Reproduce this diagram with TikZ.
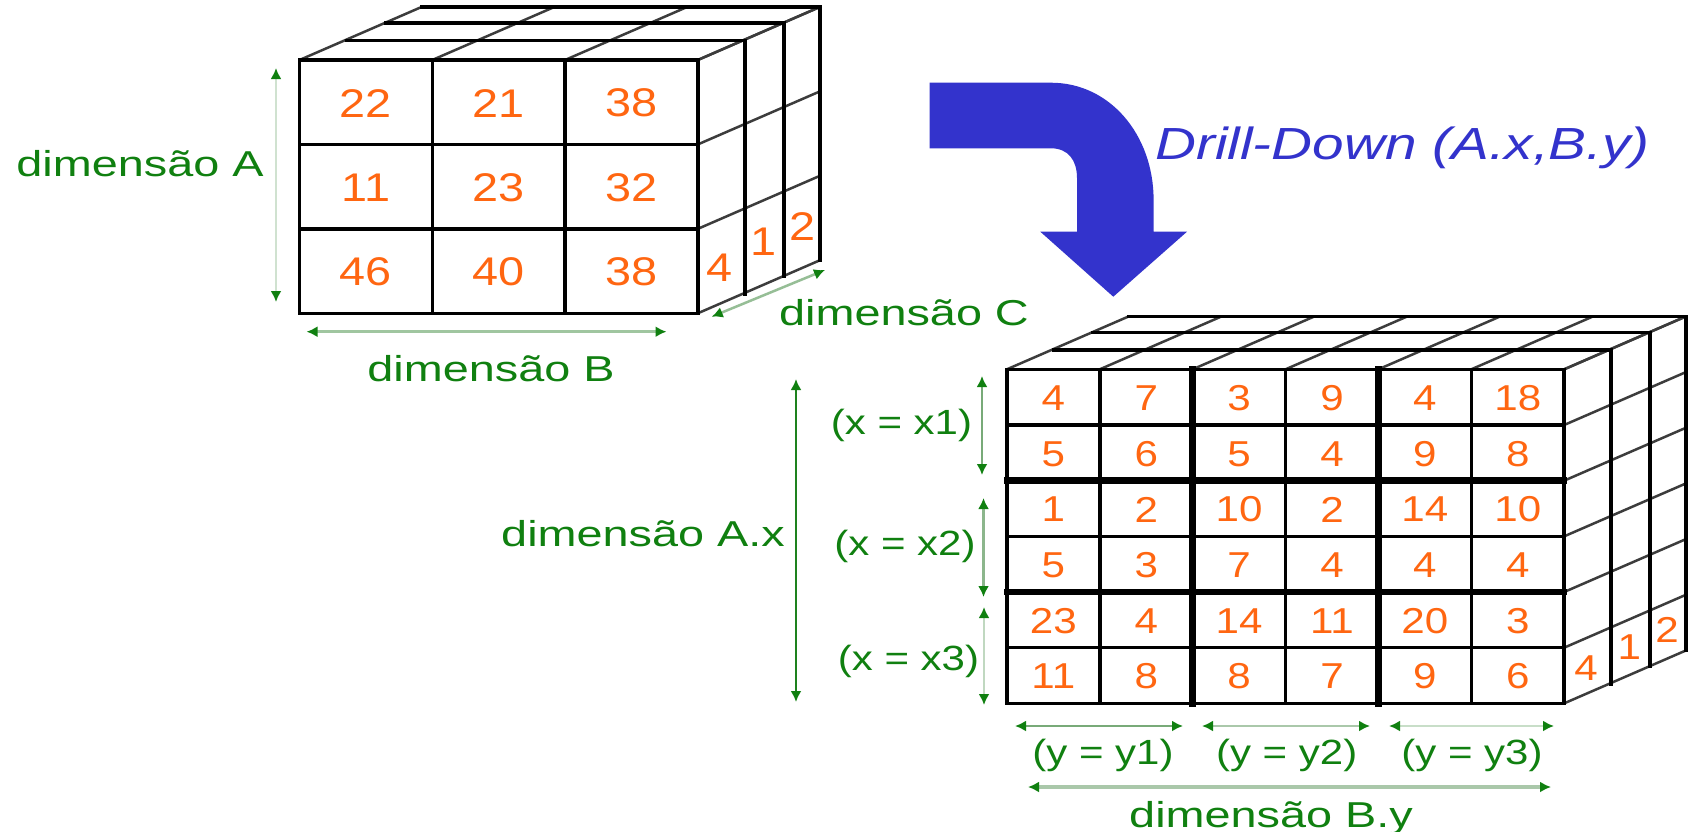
\documentclass[tikz,border=0pt]{standalone}
\usepackage{fontspec}
\setmainfont{Liberation Sans}
\newfontfamily\labfont[FakeStretch=1.3]{Liberation Sans}
\newfontfamily\parfont[FakeStretch=1.2]{Liberation Sans}
\newfontfamily\numfont[FakeStretch=1.17]{Liberation Sans}
\newfontfamily\drillfont[FakeStretch=1.26]{Liberation Sans}
\usetikzlibrary{arrows.meta}
\definecolor{dimgreen}{RGB}{16,128,16}
\definecolor{numorange}{RGB}{255,102,17}
\definecolor{drillblue}{RGB}{51,51,204}
\definecolor{diagline}{RGB}{60,60,60}
\definecolor{shA}{RGB}{208,226,208}
\definecolor{shB}{RGB}{160,198,160}
\definecolor{shC}{RGB}{150,190,150}
\definecolor{shAx}{RGB}{30,130,30}
\definecolor{shxa}{RGB}{120,170,120}
\definecolor{shxb}{RGB}{140,182,140}
\definecolor{shxc}{RGB}{192,216,192}
\definecolor{shya}{RGB}{120,170,120}
\definecolor{shyb}{RGB}{170,200,170}
\definecolor{shyc}{RGB}{200,222,200}
\definecolor{shBy}{RGB}{170,200,170}
\tikzset{
  tipg/.tip={Latex[length=11pt,width=11pt,color=dimgreen]},
  dimarr/.style={draw=#1,line width=2.5pt,tipg-tipg},
  gridline/.style={line width=3.5pt,draw=black,line cap=rect},
  thickline/.style={line width=6.5pt,draw=black,line cap=rect},
  diag/.style={line width=2.5pt,draw=diagline},
  lab/.style={font=\labfont\fontsize{36}{40}\selectfont,text=dimgreen,inner sep=0pt,anchor=base},
  plab/.style={font=\parfont\fontsize{35}{40}\selectfont,text=dimgreen,inner sep=0pt,anchor=base},
  numL/.style={font=\numfont\fontsize{40}{44}\selectfont,text=numorange,inner sep=0pt},
  numR/.style={font=\numfont\fontsize{36}{40}\selectfont,text=numorange,inner sep=0pt},
}
\begin{document}
\begin{tikzpicture}[x=1pt,y=-1pt]
\fill[white] (0,0) rectangle (1692,831);
\useasboundingbox (0,0) rectangle (1692,831);

% ================= LEFT CUBE =================
% top-face and right-face diagonals
\foreach \i in {0,...,3}
  \draw[diag] ({299.5+\i*132.77},60) -- ++(122,-53);
\foreach \j in {0,...,3}
  \draw[diag] (697.8,{60+\j*84.43}) -- ++(122,-53);
% depth layers
\foreach \dx/\dy in {47/-19.5,86/-37,122/-53}
  \draw[gridline] ({299.5+\dx},{60+\dy}) -- ({697.8+\dx},{60+\dy}) -- ({697.8+\dx},{313.3+\dy});
% front face
\foreach \i in {1,2}
  \draw[gridline] ({299.5+\i*132.77},60) -- ++(0,253.3);
\foreach \j in {1,2}
  \draw[gridline] (299.5,{60+\j*84.43}) -- ++(398.3,0);
\draw[gridline] (299.5,60) rectangle (697.8,313.3);
% values
\foreach \v [count=\k from 0] in {22,21,38,11,23,32,46,40,38}{
  \pgfmathtruncatemacro{\c}{mod(\k,3)}
  \pgfmathtruncatemacro{\r}{int(\k/3)}
  \node[numL] (L\k) at ({299.5+(\c+0.5)*132.77},{60+(\r+0.5)*84.43+1}) {\v};
}
\node[numL] (Ls1) at (720,268) {4};
\node[numL] (Ls2) at (763.6,241.7) {1};
\node[numL] (Ls3) at (802.5,226.7) {2};

% left cube dimension arrows
\coordinate (Aa) at (276,68);
\coordinate (Ab) at (276,302);
\draw[dimarr=shA] (Aa) -- (Ab);
\coordinate (Ba) at (306.5,331.7);
\coordinate (Bb) at (666.5,331.7);
\draw[dimarr=shB] (Ba) -- (Bb);
\coordinate (Ca) at (711.7,316.7);
\coordinate (Cb) at (825,270);
\draw[dimarr=shC] (Ca) -- (Cb);
\node[lab] (dimA) at (140,176.7) {dimensão A};
\node[lab] (dimB) at (491,381.7) {dimensão B};
\node[lab] (dimC) at (904,325.7) {dimensão C};

% ================= DRILL ARROW =================
\fill[drillblue] (929.6,82.7) -- (1051,82.7)
  .. controls (1110,82.7) and (1153.6,135) .. (1153.6,200)
  -- (1153.6,231.7) -- (1187,231.7) -- (1113.3,296.7) -- (1040.3,231.7)
  -- (1077,231.7) -- (1077,178)
  .. controls (1077,160) and (1068,148.3) .. (1051,148.3)
  -- (929.6,148.3) -- cycle;
\node[font=\drillfont\itshape\fontsize{45}{50}\selectfont,text=drillblue,inner sep=0pt,anchor=base]
  (drill) at (1402.5,159) {Drill-Down (A.x,B.y)};

% ================= RIGHT CUBE =================
\foreach \i in {0,...,6}
  \draw[diag] ({1006.9+\i*92.88},369.3) -- ++(122,-53);
\foreach \j in {0,...,6}
  \draw[diag] (1564.2,{369.3+\j*55.67}) -- ++(122,-53);
\foreach \dx/\dy in {47/-19.5,86/-37,122/-53}
  \draw[gridline] ({1006.9+\dx},{369.3+\dy}) -- ({1564.2+\dx},{369.3+\dy}) -- ({1564.2+\dx},{703.3+\dy});
\foreach \i in {1,3,5}
  \draw[gridline] ({1006.9+\i*92.88},369.3) -- ++(0,334);
\foreach \j in {1,3,5}
  \draw[gridline] (1006.9,{369.3+\j*55.67}) -- ++(557.3,0);
\foreach \i in {2,4}
  \draw[thickline] ({1006.9+\i*92.88},369.3) -- ++(0,334);
\foreach \j in {2,4}
  \draw[thickline] (1006.9,{369.3+\j*55.67}) -- ++(557.3,0);
\draw[gridline] (1006.9,369.3) rectangle (1564.2,703.3);
\foreach \v [count=\k from 0] in {4,7,3,9,4,18, 5,6,5,4,9,8, 1,2,10,2,14,10, 5,3,7,4,4,4, 23,4,14,11,20,3, 11,8,8,7,9,6}{
  \pgfmathtruncatemacro{\c}{mod(\k,6)}
  \pgfmathtruncatemacro{\r}{int(\k/6)}
  \node[numR] (R\k) at ({1006.9+(\c+0.5)*92.88},{369.3+(\r+0.5)*55.67+1}) {\v};
}
\node[numR] (Rs1) at (1586,668) {4};
\node[numR] (Rs2) at (1629.3,646.7) {1};
\node[numR] (Rs3) at (1667,630) {2};

% right cube dimension arrows
\coordinate (Axa) at (796,379);
\coordinate (Axb) at (796,702);
\draw[dimarr=shAx] (Axa) -- (Axb);
\coordinate (x1a) at (982,376);
\coordinate (x1b) at (982,475);
\draw[dimarr=shxa] (x1a) -- (x1b);
\coordinate (x2a) at (983.5,498);
\coordinate (x2b) at (983.5,597);
\draw[dimarr=shxb] (x2a) -- (x2b);
\coordinate (x3a) at (984,607);
\coordinate (x3b) at (984,705);
\draw[dimarr=shxc] (x3a) -- (x3b);
\coordinate (y1a) at (1015,726);
\coordinate (y1b) at (1183,726);
\draw[dimarr=shya] (y1a) -- (y1b);
\coordinate (y2a) at (1202,726);
\coordinate (y2b) at (1370,726);
\draw[dimarr=shyb] (y2a) -- (y2b);
\coordinate (y3a) at (1389,726);
\coordinate (y3b) at (1554,726);
\draw[dimarr=shyc] (y3a) -- (y3b);
\coordinate (Bya) at (1028,787);
\coordinate (Byb) at (1551,787);
\draw[dimarr=shBy,line width=4pt] (Bya) -- (Byb);

\node[lab] (dimAx) at (643,546) {dimensão A.x};
\node[plab] (px1) at (901.5,434.5) {(x = x1)};
\node[plab] (px2) at (905,555.5) {(x = x2)};
\node[plab] (px3) at (908.5,670.5) {(x = x3)};
\node[plab] (py1) at (1103,764.3) {(y = y1)};
\node[plab] (py2) at (1286.7,764.3) {(y = y2)};
\node[plab] (py3) at (1472,764.3) {(y = y3)};
\node[lab] (dimBy) at (1271,827.7) {dimensão B.y};
\end{tikzpicture}
\end{document}
